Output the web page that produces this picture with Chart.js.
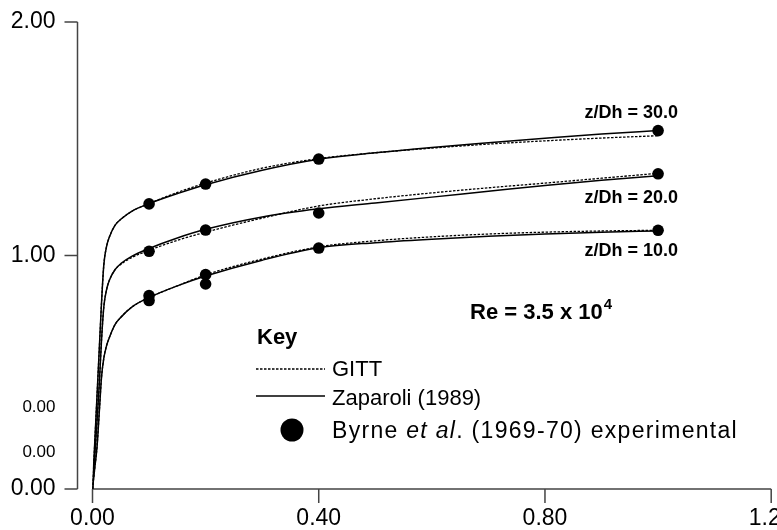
<!DOCTYPE html>
<html>
<head>
<meta charset="utf-8">
<script src="https://cdn.jsdelivr.net/npm/chart.js@4.4.1/dist/chart.umd.min.js"></script>
<style>
  html, body { margin: 0; padding: 0; background: #fff; }
  canvas { display: block; }
</style>
</head>
<body>
<canvas id="profileChart" width="777" height="530"></canvas>
<script>
const FONT = "'Liberation Sans', Arial, Helvetica, sans-serif";

// x positions where the model curves are sampled
const xGrid = [0, 0.004, 0.008, 0.012, 0.016, 0.02, 0.025, 0.03, 0.04, 0.05, 0.07,
               0.1, 0.15, 0.2, 0.3, 0.4, 0.5, 0.6, 0.7, 0.8, 0.9, 1.0];

// Zaparoli (1989) solution, one array per station
const zaparoli30 = [0, 0.2, 0.4, 0.6, 0.8, 0.96, 1.04, 1.08, 1.13, 1.155, 1.19,
                    1.222, 1.265, 1.303, 1.365, 1.412, 1.44, 1.463, 1.483, 1.502, 1.52, 1.535];
const zaparoli20 = [0, 0.14, 0.29, 0.45, 0.64, 0.78, 0.855, 0.895, 0.94, 0.965, 0.997,
                    1.03, 1.075, 1.112, 1.165, 1.2, 1.225, 1.25, 1.275, 1.3, 1.322, 1.342];
const zaparoli10 = [0, 0.09, 0.18, 0.33, 0.48, 0.56, 0.615, 0.65, 0.705, 0.735, 0.78,
                    0.82, 0.87, 0.912, 0.98, 1.033, 1.055, 1.07, 1.082, 1.092, 1.1, 1.105];

// GITT solution
const gitt30 = [0, 0.2, 0.4, 0.6, 0.8, 0.96, 1.04, 1.08, 1.13, 1.155, 1.19,
                1.222, 1.27, 1.31, 1.374, 1.415, 1.44, 1.46, 1.477, 1.491, 1.503, 1.513];
const gitt20 = [0, 0.14, 0.29, 0.45, 0.64, 0.78, 0.855, 0.895, 0.94, 0.962, 0.992,
                1.022, 1.065, 1.1, 1.16, 1.212, 1.243, 1.268, 1.29, 1.31, 1.331, 1.352];
const gitt10 = [0, 0.09, 0.18, 0.33, 0.48, 0.56, 0.615, 0.65, 0.705, 0.735, 0.78,
                0.82, 0.87, 0.917, 0.985, 1.037, 1.063, 1.08, 1.092, 1.1, 1.105, 1.108];

// Byrne et al. (1969-70) measurements
const byrneX30 = [0.1, 0.2, 0.4, 1.0];
const byrneY30 = [1.221, 1.306, 1.413, 1.535];
const byrneX20 = [0.1, 0.2, 0.4, 1.0];
const byrneY20 = [1.018, 1.109, 1.182, 1.35];
const byrneX10 = [0.1, 0.1, 0.2, 0.2, 0.4, 1.0];
const byrneY10 = [0.828, 0.807, 0.918, 0.878, 1.032, 1.108];

const stationLabels = ['z/Dh = 30.0', 'z/Dh = 20.0', 'z/Dh = 10.0'];

// axis ticks
const xTicks = [0, 0.4, 0.8, 1.2];
const yMajor = [0, 1, 2];
const yTickValues = [0, 0.155, 0.35, 1, 2];
const yTickLabels = ['0.00', '0.00', '0.00', '1.00', '2.00'];

const pairs = (xs, ys) => xs.map((x, i) => ({ x, y: ys[i] }));

function curve(ys, dotted) {
    return {
        data: pairs(xGrid, ys),
        showLine: true,
        pointRadius: 0,
        borderColor: '#000',
        borderWidth: dotted ? 1.3 : 1.5,
        borderDash: dotted ? [2.5, 1.5] : [],
        cubicInterpolationMode: 'monotone',
        fill: false
    };
}

function measured(xs, ys) {
    return {
        data: pairs(xs, ys),
        showLine: false,
        pointRadius: 5.8,
        pointBackgroundColor: '#000',
        pointBorderWidth: 0
    };
}

// the y axis stands off to the left of the plot, so both axes are drawn by hand
const offsetAxes = {
    id: 'offsetAxes',
    beforeDatasetsDraw(chart) {
        const { ctx, scales: { x, y } } = chart;
        const ax = x.getPixelForValue(0) - 15;
        const base = y.getPixelForValue(0);
        ctx.save();
        ctx.strokeStyle = '#444';
        ctx.lineWidth = 1.5;
        ctx.beginPath();
        ctx.moveTo(ax, y.getPixelForValue(2));
        ctx.lineTo(ax, base);
        yMajor.forEach(v => {
            const py = y.getPixelForValue(v);
            ctx.moveTo(ax - 13, py);
            ctx.lineTo(ax, py);
        });
        ctx.moveTo(x.getPixelForValue(0), base);
        ctx.lineTo(x.getPixelForValue(1.2), base);
        xTicks.forEach(v => {
            const px = x.getPixelForValue(v);
            ctx.moveTo(px, base);
            ctx.lineTo(px, base + 14);
        });
        ctx.stroke();
        ctx.restore();
    }
};

const notes = {
    id: 'notes',
    afterDraw(chart) {
        const { ctx, scales: { x, y } } = chart;
        ctx.save();
        ctx.fillStyle = '#000';
        ctx.textBaseline = 'middle';

        // station labels next to the last measurement
        ctx.font = `bold 18px ${FONT}`;
        ctx.textAlign = 'right';
        const rx = x.getPixelForValue(1.0) + 20;
        ctx.fillText(stationLabels[0], rx, y.getPixelForValue(byrneY30[3]) - 18);
        ctx.fillText(stationLabels[1], rx, y.getPixelForValue(byrneY20[3]) + 24);
        ctx.fillText(stationLabels[2], rx, y.getPixelForValue(byrneY10[5]) + 21);

        // Reynolds number
        ctx.textAlign = 'left';
        ctx.font = `bold 22px ${FONT}`;
        const re = 'Re = 3.5 x 10';
        ctx.fillText(re, 470, 313);
        const rw = ctx.measureText(re).width;
        ctx.font = `bold 15px ${FONT}`;
        ctx.fillText('4', 470 + rw + 1, 305);

        // key
        ctx.font = `bold 22px ${FONT}`;
        ctx.fillText('Key', 257, 338);

        ctx.strokeStyle = '#000';
        ctx.beginPath();
        ctx.lineWidth = 1.3;
        ctx.setLineDash([2.5, 1.5]);
        ctx.moveTo(256, 369);
        ctx.lineTo(325, 369);
        ctx.stroke();
        ctx.beginPath();
        ctx.setLineDash([]);
        ctx.lineWidth = 1.5;
        ctx.moveTo(256, 396);
        ctx.lineTo(325, 396);
        ctx.stroke();
        ctx.beginPath();
        ctx.arc(292, 430, 11.5, 0, Math.PI * 2);
        ctx.fill();

        ctx.font = `22px ${FONT}`;
        ctx.fillText('GITT', 332, 370);
        ctx.fillText('Zaparoli (1989)', 332, 399);

        // the experimental entry is set wider, running out to x = 738
        const parts = [['Byrne ', ''], ['et al', 'italic '], ['. (1969-70) experimental', '']];
        let natural = 0, chars = 0;
        parts.forEach(([s, style]) => {
            ctx.font = `${style}23px ${FONT}`;
            natural += ctx.measureText(s).width;
            chars += s.length;
        });
        ctx.letterSpacing = `${Math.max(0, (738 - 332 - natural) / chars)}px`;
        let tx = 332;
        parts.forEach(([s, style]) => {
            ctx.font = `${style}23px ${FONT}`;
            ctx.fillText(s, tx, 432);
            tx += ctx.measureText(s).width;
        });
        ctx.restore();
    }
};

new Chart(document.getElementById('profileChart'), {
    type: 'scatter',
    data: {
        datasets: [
            curve(gitt30, true), curve(zaparoli30, false), measured(byrneX30, byrneY30),
            curve(gitt20, true), curve(zaparoli20, false), measured(byrneX20, byrneY20),
            curve(gitt10, true), curve(zaparoli10, false), measured(byrneX10, byrneY10)
        ]
    },
    options: {
        responsive: false,
        animation: false,
        events: [],
        layout: { padding: { left: 0, right: 3, top: 22, bottom: 0 } },
        plugins: {
            legend: { display: false },
            tooltip: { enabled: false }
        },
        scales: {
            x: {
                type: 'linear',
                min: 0,
                max: 1.2,
                grid: { display: false, drawTicks: false, tickLength: 0 },
                border: { display: false },
                afterBuildTicks: s => { s.ticks = xTicks.map(v => ({ value: v })); },
                afterFit: s => { s.height = 41; s.paddingLeft = 0; s.paddingRight = 0; },
                ticks: {
                    autoSkip: false,
                    maxRotation: 0,
                    padding: 16,
                    color: '#000',
                    font: { family: FONT, size: 23 },
                    callback: v => v.toFixed(2)
                }
            },
            y: {
                type: 'linear',
                min: 0,
                max: 2,
                grid: { display: false, drawTicks: false, tickLength: 0 },
                border: { display: false },
                afterBuildTicks: s => { s.ticks = yTickValues.map(v => ({ value: v })); },
                afterFit: s => { s.width = 92.5; s.paddingTop = 0; s.paddingBottom = 0; },
                ticks: {
                    autoSkip: false,
                    padding: 37,
                    color: '#000',
                    font: c => ({
                        family: FONT,
                        size: c.tick && !yMajor.includes(c.tick.value) ? 17 : 23
                    }),
                    callback: (v, i) => yTickLabels[i]
                }
            }
        }
    },
    plugins: [offsetAxes, notes]
});
</script>
</body>
</html>
